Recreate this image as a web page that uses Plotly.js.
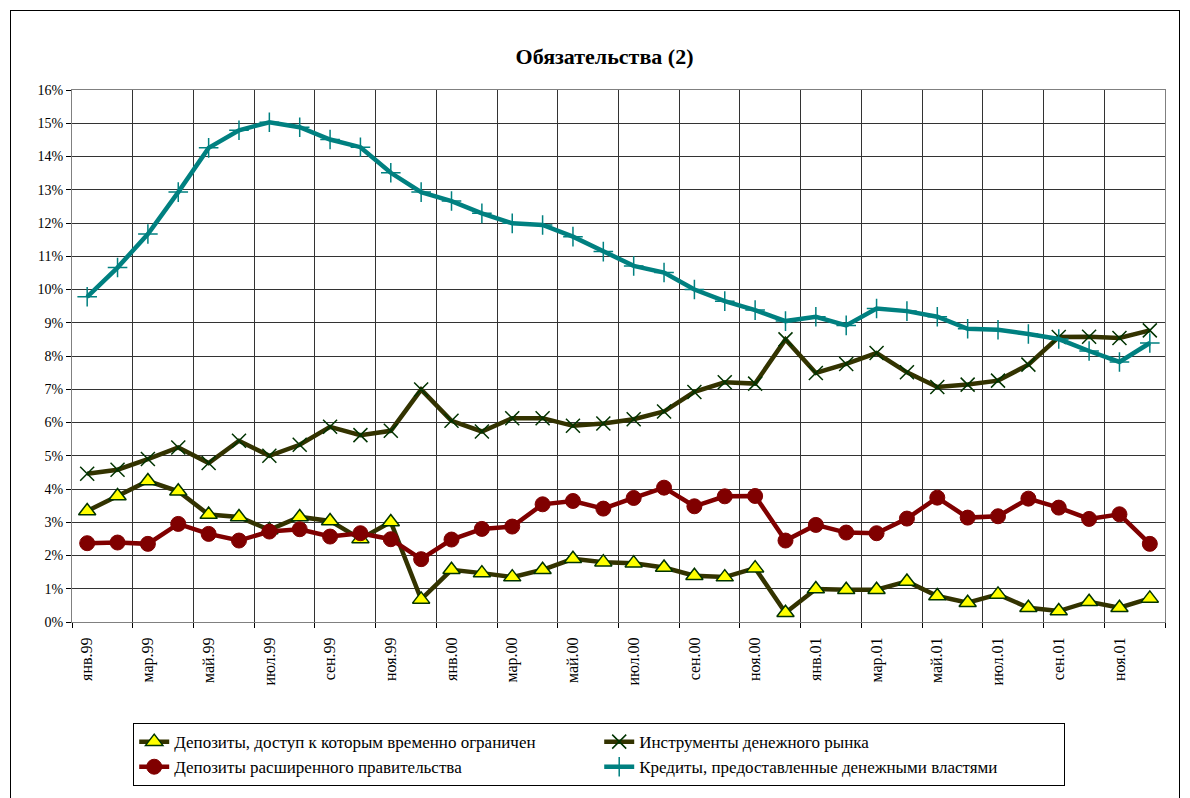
<!DOCTYPE html>
<html><head><meta charset="utf-8">
<script src="https://cdn.plot.ly/plotly-3.0.1.min.js"></script>
<style>
html,body{margin:0;padding:0;background:#fff;}
#wrap{position:relative;width:1190px;height:798px;overflow:hidden;}
#frame{position:absolute;left:10px;top:10px;width:1170px;height:800px;border:1px solid #000;box-sizing:border-box;pointer-events:none;z-index:5;}
#chart{position:absolute;left:0;top:0;width:1190px;height:798px;}
</style></head>
<body><div id="wrap"><div id="chart"></div><div id="frame"></div></div>
<script>
const months = ["янв.99","фев.99","мар.99","апр.99","май.99","июн.99","июл.99","авг.99","сен.99","окт.99","ноя.99","дек.99",
"янв.00","фев.00","мар.00","апр.00","май.00","июн.00","июл.00","авг.00","сен.00","окт.00","ноя.00","дек.00",
"янв.01","фев.01","мар.01","апр.01","май.01","июн.01","июл.01","авг.01","сен.01","окт.01","ноя.01","дек.01"];

const restrictedDeposits = [3.34,3.79,4.24,3.93,3.23,3.16,2.77,3.16,3.04,2.50,3.01,0.68,
1.57,1.47,1.35,1.57,1.90,1.80,1.77,1.64,1.39,1.35,1.62,0.28,
0.99,0.97,0.97,1.22,0.78,0.58,0.83,0.43,0.33,0.61,0.43,0.71];

const moneyMarket = [4.46,4.58,4.90,5.25,4.78,5.45,5.00,5.33,5.87,5.62,5.75,6.99,
6.05,5.73,6.13,6.13,5.90,5.97,6.10,6.33,6.92,7.21,7.17,8.50,
7.49,7.76,8.09,7.51,7.07,7.14,7.26,7.74,8.57,8.58,8.54,8.77];

const govDeposits = [2.37,2.39,2.35,2.95,2.65,2.45,2.72,2.79,2.57,2.67,2.49,1.89,
2.48,2.80,2.87,3.54,3.64,3.41,3.73,4.04,3.48,3.78,3.79,2.45,
2.92,2.69,2.67,3.11,3.74,3.14,3.18,3.71,3.44,3.10,3.24,2.35];

const authorityCredits = [9.78,10.66,11.67,12.93,14.26,14.79,15.03,14.88,14.51,14.28,13.51,12.93,
12.66,12.29,11.99,11.94,11.59,11.14,10.71,10.51,10.00,9.65,9.38,9.05,
9.18,8.92,9.43,9.35,9.18,8.82,8.79,8.66,8.51,8.15,7.82,8.39];

const seriesNames = ["Депозиты, доступ к которым временно ограничен","Инструменты денежного рынка",
"Депозиты расширенного правительства","Кредиты, предоставленные денежными властями"];

const idx = months.map((m,i)=>i);
const labelIdx = idx.filter(i=>i%2===0);
const labelText = labelIdx.map(i=>months[i]);

const SERIF = "Liberation Serif, Times New Roman, serif";

const traces = [
 {x:idx,y:restrictedDeposits,name:seriesNames[0],mode:"lines+markers",
  line:{color:"#333300",width:4.5},
  marker:{symbol:"triangle-up",size:15,color:"#FFFF00",line:{color:"#003300",width:1.5}}},
 {x:idx,y:moneyMarket,name:seriesNames[1],mode:"lines+markers",
  line:{color:"#333300",width:4.5},
  marker:{symbol:"x-thin-open",size:14,color:"#003300",line:{color:"#003300",width:1.5}}},
 {x:idx,y:govDeposits,name:seriesNames[2],mode:"lines+markers",
  line:{color:"#800000",width:4.5},
  marker:{symbol:"circle",size:15,color:"#800000",line:{color:"#800000",width:1}}},
 {x:idx,y:authorityCredits,name:seriesNames[3],mode:"lines+markers",
  line:{color:"#008080",width:4.5},
  marker:{symbol:"cross-thin-open",size:14,color:"#008080",line:{color:"#008080",width:1.5}}}
];

const layout = {
 width:1190,height:798,
 paper_bgcolor:"#fff",plot_bgcolor:"#fff",
 margin:{l:72,r:25,t:90,b:172},
 font:{family:SERIF,color:"#000",size:14},
 title:{text:"<b>Обязательства (2)</b>",x:0.508,xanchor:"center",y:0.93,yanchor:"middle",
   font:{family:SERIF,size:22,color:"#000"}},
 showlegend:true,
 legend:{orientation:"h",x:0.056,xanchor:"left",y:-0.19,yanchor:"top",
   bordercolor:"#000",borderwidth:1,bgcolor:"#fff",entrywidth:420,
   font:{family:SERIF,size:17,color:"#000"},traceorder:"normal",itemwidth:30},
 xaxis:{range:[-0.5,35.5],tickmode:"array",tickvals:labelIdx,ticktext:labelText,tickangle:-90,
   automargin:false,showgrid:false,ticks:"",zeroline:false,showline:true,mirror:true,linecolor:"#808080",linewidth:1,
   ticklabelstandoff:8,
   tickfont:{family:SERIF,size:16,color:"#000"},
   minor:{tickmode:"linear",tick0:-0.5,dtick:2,showgrid:true,gridcolor:"#333",gridwidth:1,ticks:"outside",ticklen:5,tickcolor:"#000"}},
 yaxis:{range:[0,16],dtick:1,tick0:0,ticksuffix:"%",showgrid:true,gridcolor:"#333",gridwidth:1,automargin:false,
   zeroline:false,showline:true,mirror:true,linecolor:"#808080",linewidth:1,ticks:"outside",ticklen:5,tickcolor:"#000",
   tickfont:{family:SERIF,size:14,color:"#000"}}
};

Plotly.newPlot("chart",traces,layout,{displayModeBar:false,staticPlot:true});
</script></body></html>
